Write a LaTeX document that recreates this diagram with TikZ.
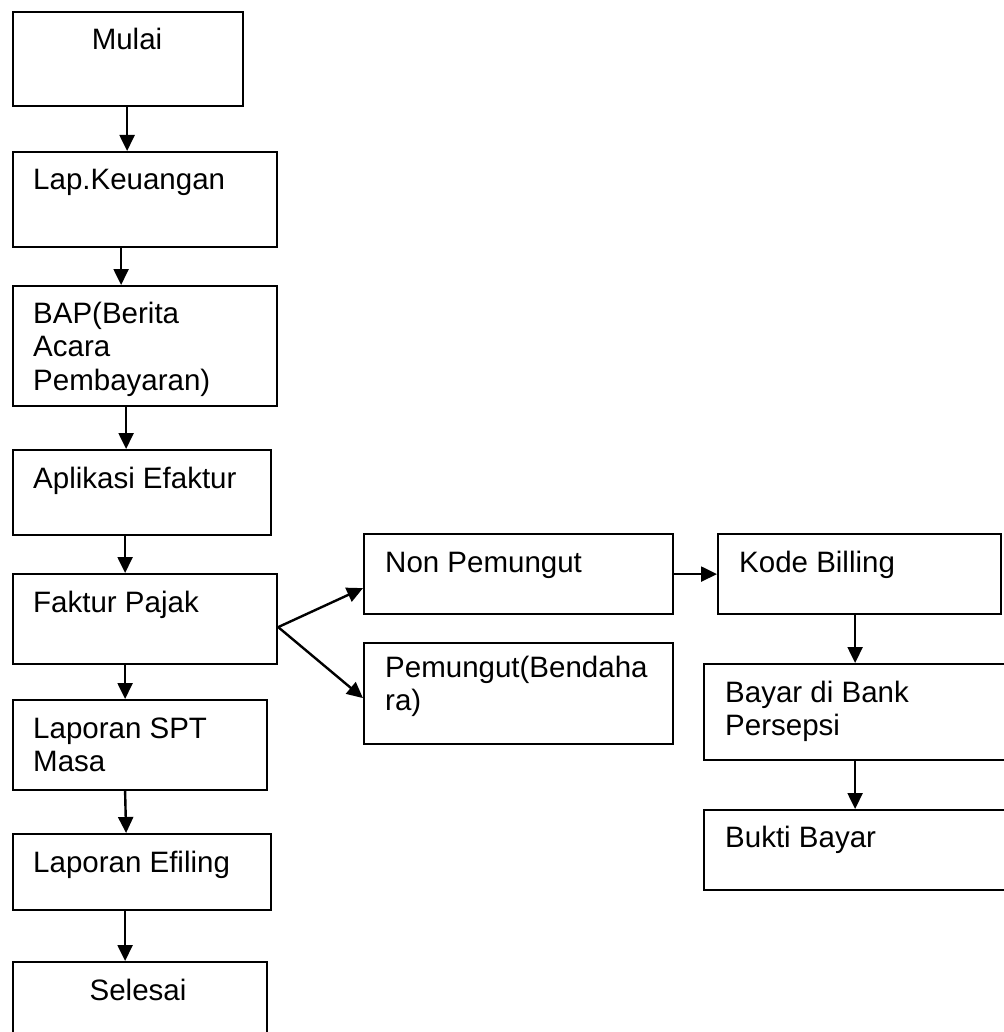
\documentclass[tikz,border=0pt]{standalone}
\usepackage{fontspec}
\setmainfont{Liberation Sans}
\usetikzlibrary{arrows.meta,calc}
\tikzset{
  box/.style={draw, line width=2.2pt, inner sep=0pt, anchor=north west},
  txt/.style={inner sep=0pt, anchor=base west, font=\fontsize{29.5}{33.5}\selectfont},
  ctxt/.style={inner sep=0pt, anchor=base, font=\fontsize{29.5}{33.5}\selectfont},
  arr/.style={line width=2.4pt, -{Triangle[length=16pt,width=15pt]}}
}
\newcommand\ml[1]{\parbox[t]{9cm}{\raggedright #1}}
\begin{document}
\begin{tikzpicture}[x=1pt,y=-1pt]
\useasboundingbox (0,0) rectangle (1003,1032);
% boxes
\node[box, minimum width=230pt, minimum height=94pt] (mulai) at (12,11) {};
\node[box, minimum width=264pt, minimum height=95pt] (lap) at (12,151) {};
\node[box, minimum width=264pt, minimum height=120pt] (bap) at (12,285) {};
\node[box, minimum width=258pt, minimum height=85pt] (apl) at (12,449) {};
\node[box, minimum width=264pt, minimum height=90pt] (faktur) at (12,573) {};
\node[box, minimum width=254pt, minimum height=90pt] (spt) at (12,699) {};
\node[box, minimum width=258pt, minimum height=76pt] (efiling) at (12,833) {};
\node[box, minimum width=254pt, minimum height=90pt] (selesai) at (12,961) {};
\node[box, minimum width=309pt, minimum height=80pt] (non) at (363,533) {};
\node[box, minimum width=309pt, minimum height=101pt] (pem) at (363,642) {};
\node[box, minimum width=283pt, minimum height=80pt] (kode) at (717,533) {};
\node[box, minimum width=320pt, minimum height=96pt] (bayar) at (703,663) {};
\node[box, minimum width=320pt, minimum height=80pt] (bukti) at (703,809) {};
% texts
\node[ctxt] (tmulai) at (127,50) {Mulai};
\node[txt] (tlap) at (33,190) {Lap.Keuangan};
\node[txt] (tbap) at (33,323) {\ml{BAP(Berita\\Acara\\Pembayaran)}};
\node[txt] (tapl) at (33,488) {Aplikasi Efaktur};
\node[txt] (tfaktur) at (33,612) {Faktur Pajak};
\node[txt] (tspt) at (33,738) {\ml{Laporan SPT\\Masa}};
\node[txt] (tefiling) at (33,872) {Laporan Efiling};
\node[ctxt] (tselesai) at (138,1000) {Selesai};
\node[txt] (tnon) at (385,572) {Non Pemungut};
\node[txt] (tpem) at (385,677) {\ml{Pemungut(Bendaha\\ra)}};
\node[txt] (tkode) at (739,572) {Kode Billing};
\node[txt] (tbayar) at (725,702) {\ml{Bayar di Bank\\Persepsi}};
\node[txt] (tbukti) at (725,847) {Bukti Bayar};
% connector anchors
\coordinate (c1) at ([xshift=-1pt]mulai.south);
\coordinate (c2) at ([xshift=-24pt]lap.south);
\coordinate (c3) at ([xshift=-19pt]bap.south);
\coordinate (c4) at ([xshift=-17pt]apl.south);
\coordinate (c5) at ([xshift=-20pt]faktur.south);
\coordinate (c6) at ([xshift=-15pt]spt.south);
\coordinate (c6b) at ([xshift=-16pt]efiling.north);
\coordinate (c7) at ([xshift=-17pt]efiling.south);
\coordinate (fb) at ([yshift=-8pt]faktur.east);
\coordinate (k1) at ([xshift=-4.5pt]kode.south);
\coordinate (k2) at ([xshift=-9pt]bayar.south);
% connectors
\draw[arr] (c1) -- (c1 |- lap.north);
\draw[arr] (c2) -- (c2 |- bap.north);
\draw[arr] (c3) -- (c3 |- apl.north);
\draw[arr] (c4) -- (c4 |- faktur.north);
\draw[arr] (c5) -- (c5 |- spt.north);
\draw[arr] (c6) -- (c6b);
\draw[arr] (c7) -- (c7 |- selesai.north);
\draw[arr] (fb) -- ([yshift=-14pt]non.west);
\draw[arr] (fb) -- ([yshift=-4.5pt]pem.west);
\draw[arr] (non.east) -- (kode.west);
\draw[arr] (k1) -- (k1 |- bayar.north);
\draw[arr] (k2) -- (k2 |- bukti.north);
\end{tikzpicture}
\end{document}
